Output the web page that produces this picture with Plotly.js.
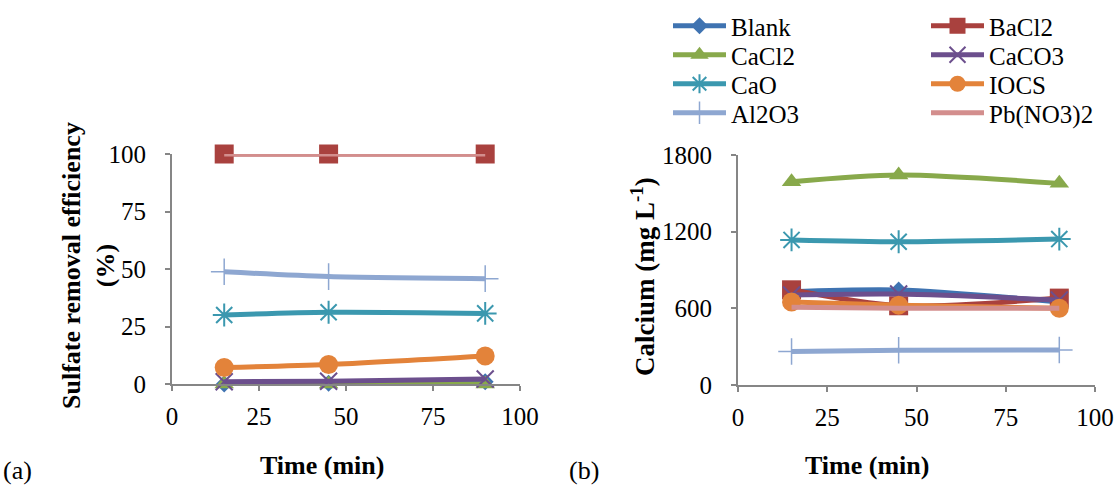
<!DOCTYPE html>
<html>
<head>
<meta charset="utf-8">
<script src="https://cdn.plot.ly/plotly-3.0.1.min.js"></script>
<style>
html,body{margin:0;padding:0;background:#ffffff;}
#chart{width:1117px;height:491px;}
</style>
</head>
<body>
<div id="chart"></div>
<script>
// ---- data ----
const time = [15, 45, 90];
const seriesNames = ['Blank', 'BaCl2', 'CaCl2', 'CaCO3', 'CaO', 'IOCS', 'Al2O3', 'Pb(NO3)2'];

// (a) sulfate removal efficiency (%)
const sulfateBlank = [0, 0.3, 1.0];
const sulfateBaCl2 = [100, 100, 100];
const sulfateCaCl2 = [0, 0, 0];
const sulfateCaCO3 = [1.0, 1.2, 2.2];
const sulfateCaO = [30.0, 31.2, 30.7];
const sulfateIOCS = [7.2, 8.5, 12.2];
const sulfateAl2O3 = [48.8, 46.7, 45.8];
const sulfatePb = [100, 100, 100];

// (b) calcium (mg/L)
const calciumBlank = [730, 743, 650];
const calciumBaCl2 = [745, 620, 680];
const calciumCaCl2 = [1590, 1643, 1578];
const calciumCaCO3 = [705, 712, 665];
const calciumCaO = [1135, 1121, 1142];
const calciumIOCS = [650, 625, 600];
const calciumAl2O3 = [262, 272, 274];
const calciumPb = [608, 600, 600];

const xTicks = [0, 25, 50, 75, 100];
const sulfateTicks = [0, 25, 50, 75, 100];
const calciumTicks = [0, 600, 1200, 1800];

// ---- styles ----
const FONT = 'Liberation Serif, Times New Roman, serif';
const sulfateData = [sulfateBlank, sulfateBaCl2, sulfateCaCl2, sulfateCaCO3, sulfateCaO, sulfateIOCS, sulfateAl2O3, sulfatePb];
const calciumData = [calciumBlank, calciumBaCl2, calciumCaCl2, calciumCaCO3, calciumCaO, calciumIOCS, calciumAl2O3, calciumPb];
const colors = ['#3F73B1', '#A9413E', '#88A94B', '#6C4F8D', '#3B98AF', '#E3833A', '#8EA7D1', '#D38E8D'];
const markers = [
  {symbol: 'diamond', size: 13},
  {symbol: 'square', size: 19},
  {symbol: 'triangle-up', size: 17},
  {symbol: 'x-thin-open', size: 17, line: {width: 2}},
  {symbol: 'asterisk-open', size: 19, line: {width: 2}},
  {symbol: 'circle', size: 19},
  {symbol: 'cross-thin-open', size: 19, line: {width: 1.5}},
  null
];
const legendIds = ['legend', 'legend2', 'legend3', 'legend4', 'legend5', 'legend6', 'legend7', 'legend8'];

function mk(i, ys, xa, ya, show) {
  const m = markers[i];
  const t = {
    x: time, y: ys, xaxis: xa, yaxis: ya,
    name: seriesNames[i],
    mode: m ? 'lines+markers' : 'lines',
    line: {color: colors[i], width: 5, shape: 'spline', smoothing: 0.8},
    showlegend: show,
    legend: legendIds[i],
    cliponaxis: false
  };
  if (m) {
    t.marker = {symbol: m.symbol, size: m.size, color: colors[i],
      line: {color: colors[i], width: m.line ? m.line.width : 0}};
  }
  return t;
}
function buildTraces() {
  const traces = [];
  for (let i = 0; i < seriesNames.length; i++) traces.push(mk(i, sulfateData[i], 'x', 'y', false));
  for (let i = 0; i < seriesNames.length; i++) traces.push(mk(i, calciumData[i], 'x2', 'y2', true));
  return traces;
}

const W = 1117, H = 491;
function axisCommon() {
  return {
    showline: true, linecolor: '#868686', linewidth: 2,
    ticks: 'outside', ticklen: 5, tickwidth: 2, tickcolor: '#868686',
    showgrid: false, zeroline: false,
    tickfont: {family: FONT, size: 25, color: '#000'}
  };
}
function legendAt(px, rowY) {
  return {
    orientation: 'v', x: px / W, xanchor: 'left', y: 1 - rowY / H, yanchor: 'middle',
    itemwidth: 53,
    bgcolor: 'rgba(0,0,0,0)', borderwidth: 0,
    font: {family: FONT, size: 25, color: '#000'}
  };
}
function ann(text, px, py, angle, size) {
  return {text: text, x: px / W, y: 1 - py / H, xref: 'paper', yref: 'paper',
    xanchor: 'center', yanchor: 'middle', showarrow: false, textangle: angle || 0,
    font: {family: FONT, size: size || 26, color: '#000'}};
}
const col1 = 668, col2 = 926;
const rows = [26, 55, 84, 113];

function buildLayout() {
  return {
    width: W, height: H,
    margin: {l: 0, r: 0, t: 0, b: 0, autoexpand: false},
    paper_bgcolor: '#fff', plot_bgcolor: 'rgba(0,0,0,0)',
    font: {family: FONT, size: 25, color: '#000'},
    xaxis: Object.assign(axisCommon(), {domain: [172 / W, 520 / W], range: [0, 100], tickvals: xTicks, anchor: 'y', ticklabelstandoff: 4}),
    yaxis: Object.assign(axisCommon(), {domain: [1 - 384 / H, 1 - 154 / H], range: [0, 100], tickvals: sulfateTicks, anchor: 'x', ticklabelstandoff: 14}),
    xaxis2: Object.assign(axisCommon(), {domain: [738 / W, 1095 / W], range: [0, 100], tickvals: xTicks, anchor: 'y2', ticklabelstandoff: 4}),
    yaxis2: Object.assign(axisCommon(), {domain: [1 - 385 / H, 1 - 155 / H], range: [0, 1800], tickvals: calciumTicks, anchor: 'x2', ticklabelstandoff: 14}),
    legend: legendAt(col1, rows[0]),
    legend2: legendAt(col2, rows[0]),
    legend3: legendAt(col1, rows[1]),
    legend4: legendAt(col2, rows[1]),
    legend5: legendAt(col1, rows[2]),
    legend6: legendAt(col2, rows[2]),
    legend7: legendAt(col1, rows[3]),
    legend8: legendAt(col2, rows[3]),
    annotations: [
      ann('<b>Sulfate removal efficiency<br>(%)</b>', 88, 266, -90),
      ann('<b>Calcium (mg L<sup>-1</sup>)</b>', 643, 277, -90, 27),
      ann('<b>Time (min)</b>', 322, 465),
      ann('<b>Time (min)</b>', 867, 465),
      ann('(a)', 17, 470),
      ann('(b)', 584, 470)
    ]
  };
}

const gd = document.getElementById('chart');
const config = {staticPlot: true, displayModeBar: false};
function draw() { return Plotly.newPlot(gd, buildTraces(), buildLayout(), config); }

draw().then(function () {
  return Promise.all([
    document.fonts.load('25px "Liberation Serif"'),
    document.fonts.load('bold 26px "Liberation Serif"'),
    document.fonts.ready
  ]);
}).then(function () {
  return new Promise(function (r) { setTimeout(r, 60); });
}).then(function () {
  Plotly.purge(gd);
  return draw();
}).catch(function () {});
</script>
</body>
</html>
